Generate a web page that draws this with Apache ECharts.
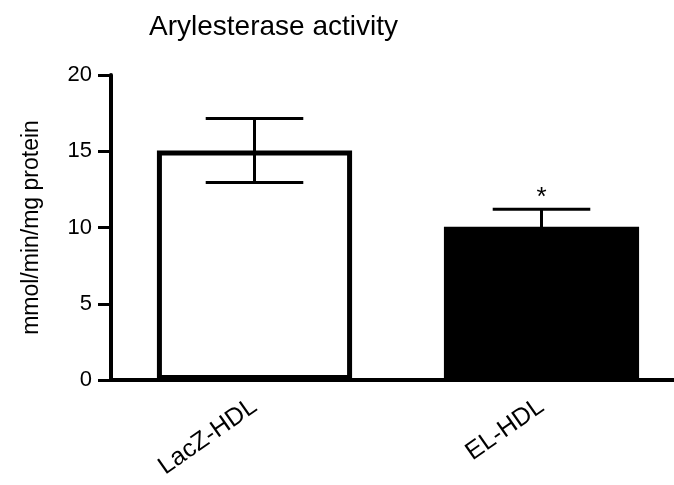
<!DOCTYPE html>
<html>
  <head>
    <meta charset="utf-8" />
    <title>Arylesterase activity</title>
    <script src="https://cdn.jsdelivr.net/npm/echarts@6/dist/echarts.min.js"></script>
    <style>
      html, body { margin: 0; padding: 0; background: #fff; }
      #main { width: 674px; height: 485px; }
    </style>
  </head>
  <body>
    <div id="main"></div>
    <script>
      // 数据
      var categories = ['LacZ-HDL', 'EL-HDL']
      var means = [15.05, 10.05]
      var errHigh = [17.15, 11.2]
      var errLow = [12.95, 8.9]
      var marks = ['', '*']
      var yTicks = [0, 5, 10, 15, 20]

      var font = 'Liberation Sans, Arial, sans-serif'
      var myChart = echarts.init(document.getElementById('main'))

      var option = {
        animation: false,
        backgroundColor: '#fff',
        title: {
          text: 'Arylesterase activity',
          left: 144,
          top: 8,
          textStyle: { fontFamily: font, fontSize: 28, fontWeight: 'normal', color: '#000' }
        },
        grid: { left: 111, width: 574, top: 75, bottom: 105, outerBoundsMode: 'none', containLabel: false },
        xAxis: {
          type: 'category',
          data: categories,
          axisLine: { lineStyle: { color: '#000', width: 4 } },
          axisTick: { alignWithLabel: true, length: 10, lineStyle: { color: '#000', width: 4 } },
          axisLabel: {
            rotate: 35,
            margin: 24,
            color: '#000',
            fontFamily: font,
            fontSize: 25
          }
        },
        yAxis: {
          type: 'value',
          min: yTicks[0],
          max: yTicks[yTicks.length - 1],
          interval: 5,
          name: 'mmol/min/mg protein',
          nameLocation: 'middle',
          nameGap: 68,
          nameTextStyle: { fontFamily: font, fontSize: 23, color: '#000' },
          axisLine: { show: true, lineStyle: { color: '#000', width: 4 } },
          axisTick: { show: true, length: 13, lineStyle: { color: '#000', width: 3 } },
          axisLabel: { color: '#000', fontFamily: font, fontSize: 22, margin: 19 },
          splitLine: { show: false }
        },
        series: [
          {
            type: 'bar',
            barWidth: '68%',
            data: means.map(function (v, i) {
              return {
                value: v,
                itemStyle: i === 0
                  ? { color: '#fff', borderColor: '#000', borderWidth: 5 }
                  : { color: '#000', borderColor: '#000', borderWidth: 2 }
              }
            }),
            z: 2
          },
          {
            type: 'custom',
            z: 3,
            data: categories.map(function (c, i) { return [i, errLow[i], errHigh[i], marks[i]] }),
            renderItem: function (params, api) {
              var i = api.value(0)
              var hi = api.coord([i, api.value(2)])
              var lo = api.coord([i, api.value(1)])
              var half = api.size([1, 0])[0] * 0.17
              var style = { stroke: '#000', lineWidth: 3 }
              return {
                type: 'group',
                children: [
                  { type: 'line', shape: { x1: hi[0], y1: hi[1], x2: lo[0], y2: lo[1] }, style: style },
                  { type: 'line', shape: { x1: hi[0] - half, y1: hi[1], x2: hi[0] + half, y2: hi[1] }, style: style },
                  { type: 'line', shape: { x1: lo[0] - half, y1: lo[1], x2: lo[0] + half, y2: lo[1] }, style: style },
                  {
                    type: 'text',
                    style: {
                      text: marks[i],
                      x: hi[0],
                      y: hi[1] + 2,
                      align: 'center',
                      verticalAlign: 'bottom',
                      fontFamily: font,
                      fontSize: 26,
                      fill: '#000'
                    }
                  }
                ]
              }
            }
          }
        ]
      }
      myChart.setOption(option)
    </script>
  </body>
</html>
